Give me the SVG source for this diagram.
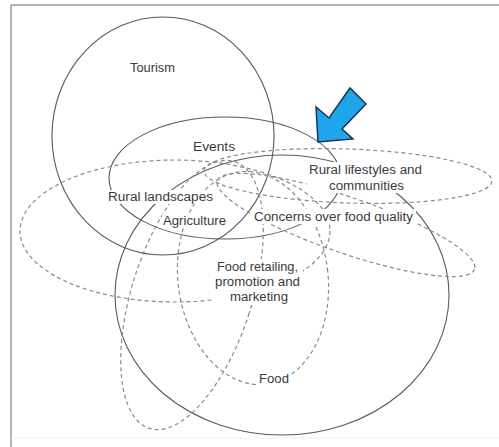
<svg xmlns="http://www.w3.org/2000/svg" width="499" height="447" viewBox="0 0 499 447">
<style>
.solid{fill:none;stroke:#5a5a5a;stroke-width:1.1}
.dash{fill:none;stroke:#8a8a8a;stroke-width:1.2;stroke-dasharray:4 3}
.lbl{font-family:"Liberation Sans",Arial,sans-serif;font-size:12.5px;fill:#3a3a3a}
.bg{fill:#ffffff}
</style>
<rect width="499" height="447" fill="#ffffff"/>
<g id="frame">
<line x1="11" y1="5" x2="499" y2="5" stroke="#9a9a9a" stroke-width="1.5"/>
<line x1="11" y1="5" x2="11" y2="447" stroke="#9a9a9a" stroke-width="1.5"/>
<line x1="11" y1="438" x2="499" y2="438" stroke="#f0f0f0" stroke-width="1"/>
</g>
<g id="connectors">
<ellipse id="tourism-circle" class="solid" cx="163" cy="136" rx="111" ry="119"/>
<ellipse id="events-ellipse" class="solid" cx="225" cy="178" rx="116" ry="61"/>
<ellipse id="food-circle" class="solid" cx="282" cy="295" rx="167" ry="140"/>
<ellipse id="landscapes-ellipse" class="dash" cx="175" cy="231" rx="155" ry="71"/>
<ellipse id="lifestyles-ellipse" class="dash" cx="348" cy="176" rx="144" ry="27" transform="rotate(2 348 176)"/>
<ellipse id="concerns-ellipse" class="dash" cx="346" cy="225" rx="136" ry="28" transform="rotate(19 346 225)"/>
<ellipse id="agriculture-ellipse" class="dash" cx="192" cy="295" rx="60" ry="140" transform="rotate(17.7 192 295)"/>
<ellipse id="retail-ellipse" class="dash" cx="253" cy="278" rx="75" ry="107" transform="rotate(-7 253 278)"/>
</g>
<g id="arrow">
<polygon points="318,142 316,107 329,118 350,88 366,104 342,129 353,139" fill="#1ea5ec" stroke="#1b3550" stroke-width="1.5" stroke-linejoin="miter"/>
</g>
<g id="node-tourism"><text class="lbl" x="130" y="72" textLength="45" lengthAdjust="spacingAndGlyphs">Tourism</text></g>
<g id="node-events"><text class="lbl" x="193" y="151" textLength="42" lengthAdjust="spacingAndGlyphs">Events</text></g>
<g id="node-rural-landscapes"><rect class="bg" x="107" y="190" width="107" height="14"/><text class="lbl" x="108" y="201" textLength="105" lengthAdjust="spacingAndGlyphs">Rural landscapes</text></g>
<g id="node-agriculture"><rect class="bg" x="162" y="214" width="66" height="14"/><text class="lbl" x="163" y="225" textLength="63" lengthAdjust="spacingAndGlyphs">Agriculture</text></g>
<g id="node-rural-lifestyles"><rect class="bg" x="307" y="162" width="117" height="31"/><text class="lbl" x="309" y="174" textLength="113" lengthAdjust="spacingAndGlyphs">Rural lifestyles and</text><text class="lbl" x="329" y="190" textLength="75" lengthAdjust="spacingAndGlyphs">communities</text></g>
<g id="node-concerns"><rect class="bg" x="252" y="209" width="164" height="15"/><text class="lbl" x="254" y="221" textLength="159" lengthAdjust="spacingAndGlyphs">Concerns over food quality</text></g>
<g id="node-food-retailing"><rect class="bg" x="213" y="259" width="90" height="46"/><text class="lbl" x="217" y="271" textLength="81" lengthAdjust="spacingAndGlyphs">Food retailing,</text><text class="lbl" x="215" y="286" textLength="85" lengthAdjust="spacingAndGlyphs">promotion and</text><text class="lbl" x="230" y="301" textLength="58" lengthAdjust="spacingAndGlyphs">marketing</text></g>
<g id="node-food"><rect class="bg" x="258" y="372" width="33" height="14"/><text class="lbl" x="259" y="383" textLength="30" lengthAdjust="spacingAndGlyphs">Food</text></g>
</svg>
